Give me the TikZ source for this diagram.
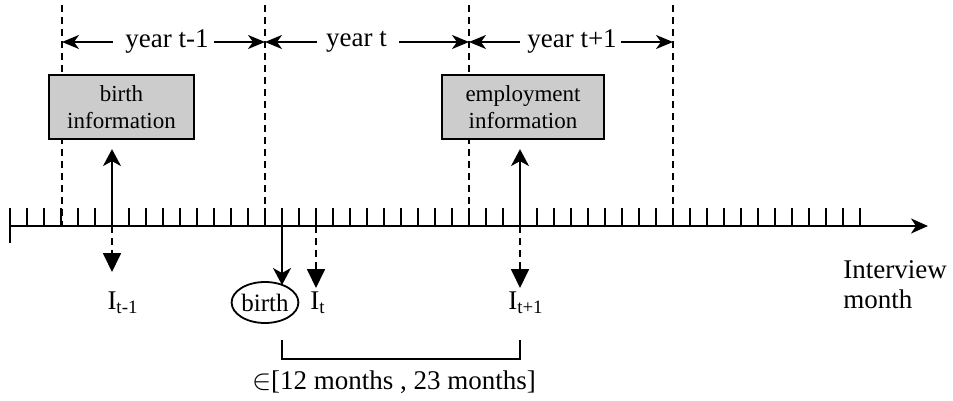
\documentclass[tikz,border=0pt]{standalone}
\usepackage{fontspec}
\setmainfont{Liberation Serif}
\usetikzlibrary{arrows.meta,shapes.geometric}
\begin{document}
\begin{tikzpicture}[x=0.5pt,y=-0.5pt,
  axisline/.style={line width=1.1pt},
  tickline/.style={line width=0.85pt},
  vdash/.style={line width=0.8pt, dash pattern=on 3.5pt off 2.5pt},
  yeartext/.style={font=\fontsize{13.5}{16}\selectfont, inner sep=0pt},
  yeararrow/.style={line width=0.9pt, -{Stealth[length=8.5pt,width=7pt,inset=2.5pt]}},
  infobox/.style={draw, line width=1.1pt, fill=gray!40, minimum height=32pt, align=center,
    font=\fontsize{11.5}{13.5}\selectfont, inner sep=0pt},
  uparrow/.style={line width=0.9pt, -{Stealth[length=8.5pt,width=9pt,inset=2.5pt]}},
  downdash/.style={line width=0.9pt, dash pattern=on 3.5pt off 2.5pt, -{Triangle[length=9.5pt,width=9pt]}},
  ilabel/.style={font=\fontsize{13.5}{16}\selectfont, inner sep=0pt},
  bigtext/.style={font=\fontsize{13.5}{15}\selectfont, inner sep=0pt}
]
\useasboundingbox (0,0) rectangle (953,401);

% vertical dashed year boundaries
\foreach \x/\n in {62/a,265/b,469/c,673/d}{
  \coordinate (top\n) at (\x,5);
  \coordinate (bot\n) at (\x,226);
  \draw[vdash] (top\n) -- (bot\n);
}

% axis and ticks
\coordinate (axstart) at (10,226);
\coordinate (axend) at (928,226);
\coordinate (barlo) at (10,243);
\coordinate (barhi) at (10,208);
\draw[axisline, -{Stealth[length=8.5pt,width=7.5pt,inset=2.5pt]}] (axstart) -- (axend);
\draw[axisline] (barhi) -- (barlo);
\foreach \k in {1,...,50}{
  \draw[tickline] (10+17*\k,208) -- (10+17*\k,226);
}

% year labels and arrows
\node[yeartext] (y1) at (167,42) {year t-1};
\node[yeartext] (y2) at (356.5,42) {year t};
\node[yeartext] (y3) at (572,42) {year t+1};
\draw[yeararrow] ([xshift=-6pt]y1.west) -- (y1.west -| topa);
\draw[yeararrow] ([xshift=2.5pt]y1.east) -- (y1.east -| topb);
\draw[yeararrow] ([xshift=-4.5pt]y2.west) -- (y2.west -| topb);
\draw[yeararrow] ([xshift=6pt]y2.east) -- (y2.east -| topc);
\draw[yeararrow] ([xshift=-3.5pt]y3.west) -- (y3.west -| topc);
\draw[yeararrow] ([xshift=2pt]y3.east) -- (y3.east -| topd);

% information boxes
\node[infobox, minimum width=72.5pt] (binfo) at (121.5,107) {birth\\information};
\node[infobox, minimum width=81pt] (einfo) at (523,107) {employment\\information};

% interview points
\coordinate (p1) at (112,226);
\coordinate (p2) at (316,226);
\coordinate (p3) at (520,226);
\coordinate (pb) at (282,226);
\coordinate (d1) at (112,272);
\coordinate (d2) at (316,288);
\coordinate (d3) at (520,288);

\draw[uparrow, shorten >=4.5pt] (p1) -- (p1 |- binfo.south);
\draw[uparrow, shorten >=4.5pt] (p3) -- (p3 |- einfo.south);
\draw[downdash] (p1) -- (d1);
\draw[downdash] (p2) -- (d2);
\draw[downdash] (p3) -- (d3);

\node[ilabel] (I1) at (123,303) {I\textsubscript{t-1}};
\node[ilabel] (I2) at (318,303) {I\textsubscript{t}};
\node[ilabel] (I3) at (526,303) {I\textsubscript{t+1}};

% birth
\node[ellipse, draw, line width=0.9pt, minimum width=33pt, minimum height=20.5pt, inner sep=0pt,
  font=\fontsize{12.5}{15}\selectfont] (birth) at (265,302.5) {birth};
\coordinate (bend) at (282,285);
\draw[uparrow] (pb) -- (bend);

% bracket
\coordinate (bl) at (282,340);
\coordinate (br) at (520,340);
\draw[line width=0.9pt] (bl) -- (282,359) -- (520,359) -- (br);
\node[bigtext] (range) at (394,382) {$\in$[12 months , 23 months]};

% axis label
\node[bigtext, align=left, anchor=west] (ilab) at (843,285) {Interview\\month};
\end{tikzpicture}
\end{document}
